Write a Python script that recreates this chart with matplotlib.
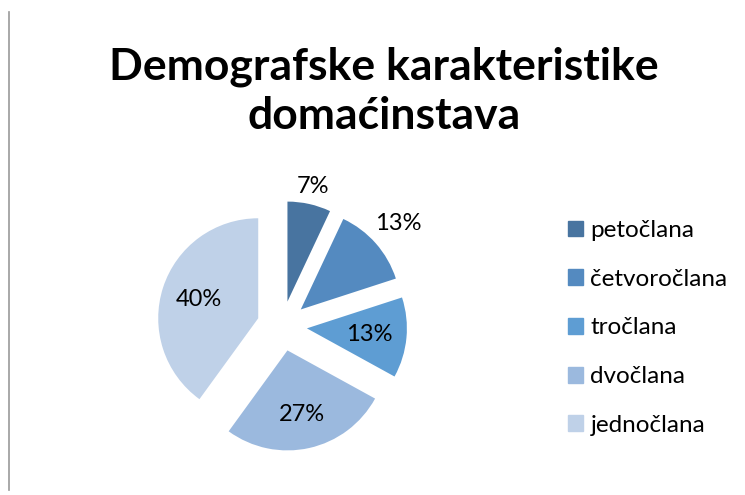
import numpy as np
import matplotlib.pyplot as plt
from matplotlib.lines import Line2D

plt.rcParams["font.family"] = ["Lato", "DejaVu Sans"]

categories = ["petočlana", "četvoročlana", "tročlana", "dvočlana", "jednočlana"]
shares = [7, 13, 13, 27, 40]
pct_labels = ["7%", "13%", "13%", "27%", "40%"]
colors = ["#4874A0", "#548AC0", "#5E9DD3", "#9BB9DE", "#BFD1E8"]
# radial label distance from each exploded wedge's apex, in radius units
label_dist = [1.18, 1.30, 0.63, 0.66, 0.62]

fig = plt.figure(figsize=(7.45, 4.95), dpi=100)
ax = fig.add_axes([132 / 745, 19 / 495, 300 / 745, 300 / 495])

wedges, _ = ax.pie(shares, colors=colors, startangle=90, counterclock=False,
                   explode=[0.25] * len(shares), radius=1.0,
                   wedgeprops=dict(linewidth=0))
ax.set_xlim(-1.5, 1.5)
ax.set_ylim(-1.5, 1.5)

for w, lab, d in zip(wedges, pct_labels, label_dist):
    mid = np.deg2rad((w.theta1 + w.theta2) / 2)
    cx, cy = w.center
    ax.text(cx + d * np.cos(mid), cy + d * np.sin(mid), lab,
            ha="center", va="center", fontsize=17, color="black")

fig.text(0.515, 0.815, "Demografske karakteristike\ndomaćinstava",
         ha="center", va="center", fontsize=32, fontweight="bold",
         linespacing=1.28)

handles = [plt.Rectangle((0, 0), 1, 1, color=c) for c in colors]
fig.legend(handles, categories, loc="center left",
           bbox_to_anchor=(568 / 745, 1 - 328 / 495), frameon=False,
           fontsize=17.5, handlelength=0.62, handleheight=0.62,
           handletextpad=0.3, labelspacing=1.14, borderpad=0, borderaxespad=0)

fig.add_artist(Line2D([9 / 745, 9 / 745], [5 / 495, 483 / 495],
                      color="#999999", linewidth=1.2))

fig.savefig("out.png", dpi=100)
